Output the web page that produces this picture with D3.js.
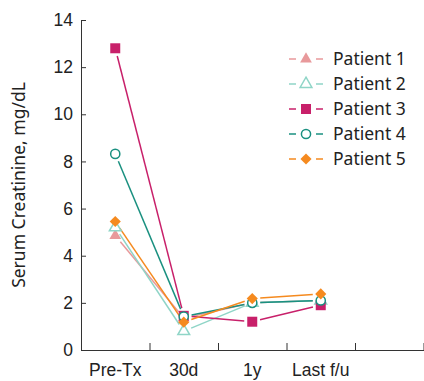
<!DOCTYPE html>
<html>
<head>
<meta charset="utf-8">
<script src="https://cdn.jsdelivr.net/npm/d3@7"></script>
<style>
  body { margin: 0; background: #fff; }
  svg { display: block; font-family: "Noto Sans", sans-serif; }
  .axis path, .axis line { stroke: #333; }
  .axis text { fill: #222; font-size: 17.5px; }
</style>
</head>
<body>
<div id="chart"></div>
<script>
var WIDTH = 424, HEIGHT = 381;
var LEFT = 81, TOP = 20, RIGHT = 0.5, BOTTOM = 31;

// data
const timepoints = ["Pre-Tx", "30d", "1y", "Last f/u", ""]
const patients = ["Patient 1", "Patient 2", "Patient 3", "Patient 4", "Patient 5"]
const patient1 = [4.85, 1.35, 2.0, 2.1]
const patient2 = [5.2, 0.8, 2.0, 2.1]
const patient3 = [12.8, 1.45, 1.2, 1.9]
const patient4 = [8.32, 1.42, 2.0, 2.1]
const patient5 = [5.45, 1.18, 2.18, 2.38]
const yTicks = [0, 2, 4, 6, 8, 10, 12, 14]

const colors = ["#e8999b", "#8fd5c7", "#c8206a", "#1a9080", "#f58a1f"]
const shapes = [d3.symbolTriangle, d3.symbolTriangle, d3.symbolSquare, d3.symbolCircle, d3.symbolSquare]
const sizes = [60, 60, 100, 66, 62]
const rot = [0, 0, 0, 0, 45]
const filled = [true, false, true, false, true]
const series = [patient1, patient2, patient3, patient4, patient5]

const svg = d3.select("#chart").append("svg").attr("width", WIDTH).attr("height", HEIGHT)

const x_scale = d3.scaleBand().domain(timepoints).range([LEFT, WIDTH - RIGHT])
const y_scale = d3.scaleLinear().domain([0, 14]).range([HEIGHT - BOTTOM, TOP])
const cx = d => x_scale(d) + x_scale.bandwidth() / 2

// y axis, ticks point inward
svg.append("g").attr("class", "axis").attr("transform", "translate(" + LEFT + ",0)")
  .call(d3.axisLeft(y_scale).tickValues(yTicks).tickSize(-5).tickSizeOuter(-5).tickPadding(8))

// x axis: inward tick marks at band edges, labels at band centres
const edges = d3.scaleLinear().domain([0, timepoints.length]).range(x_scale.range())
svg.append("g").attr("class", "axis").attr("transform", "translate(0," + (HEIGHT - BOTTOM) + ")")
  .call(d3.axisBottom(edges).ticks(timepoints.length).tickFormat("").tickSize(-7).tickSizeOuter(0))
const xl = svg.append("g").attr("class", "axis").attr("transform", "translate(0," + (HEIGHT - BOTTOM) + ")")
  .call(d3.axisBottom(x_scale).tickSize(0).tickPadding(14))
xl.select(".domain").remove()

// y label
svg.append("text").attr("transform", "rotate(-90)")
  .attr("x", -(TOP + HEIGHT - BOTTOM) / 2).attr("y", 25)
  .attr("text-anchor", "middle").attr("font-size", "17.5px").attr("fill", "#222")
  .text("Serum Creatinine, mg/dL")

// lines with small gaps near markers
const GAP = 8
series.forEach((vals, i) => {
  const pts = vals.map((v, j) => [cx(timepoints[j]), y_scale(v)])
  for (let j = 0; j < pts.length - 1; j++) {
    const a = pts[j], b = pts[j + 1]
    const dx = b[0] - a[0], dy = b[1] - a[1]
    const len = Math.sqrt(dx * dx + dy * dy)
    const g = Math.min(GAP, len / 3)
    svg.append("line")
      .attr("x1", a[0] + dx / len * g).attr("y1", a[1] + dy / len * g)
      .attr("x2", b[0] - dx / len * g).attr("y2", b[1] - dy / len * g)
      .attr("stroke", colors[i]).attr("stroke-width", 1.5)
  }
})

// markers
series.forEach((vals, i) => {
  svg.selectAll(null).data(vals).enter().append("path")
    .attr("transform", (d, j) => "translate(" + cx(timepoints[j]) + "," + y_scale(d) + ") rotate(" + rot[i] + ")")
    .attr("d", d3.symbol().type(shapes[i]).size(sizes[i]))
    .attr("fill", filled[i] ? colors[i] : "#fff")
    .attr("stroke", colors[i]).attr("stroke-width", filled[i] ? 0 : 1.5)
})

// legend
const legend = svg.append("g").attr("transform", "translate(289,59)")
patients.forEach((name, i) => {
  const row = legend.append("g").attr("transform", "translate(0," + (i * 25) + ")")
  row.append("line").attr("x1", 0).attr("x2", 7).attr("stroke", colors[i]).attr("stroke-width", 1.5)
  row.append("line").attr("x1", 27).attr("x2", 34).attr("stroke", colors[i]).attr("stroke-width", 1.5)
  row.append("path").attr("transform", "translate(17,0) rotate(" + rot[i] + ")")
    .attr("d", d3.symbol().type(shapes[i]).size(sizes[i]))
    .attr("fill", filled[i] ? colors[i] : "#fff")
    .attr("stroke", colors[i]).attr("stroke-width", filled[i] ? 0 : 1.5)
  row.append("text").attr("x", 44).attr("y", 0).attr("dy", "0.35em")
    .attr("font-size", "17.5px").attr("fill", "#222").text(name)
})
</script>
</body>
</html>
